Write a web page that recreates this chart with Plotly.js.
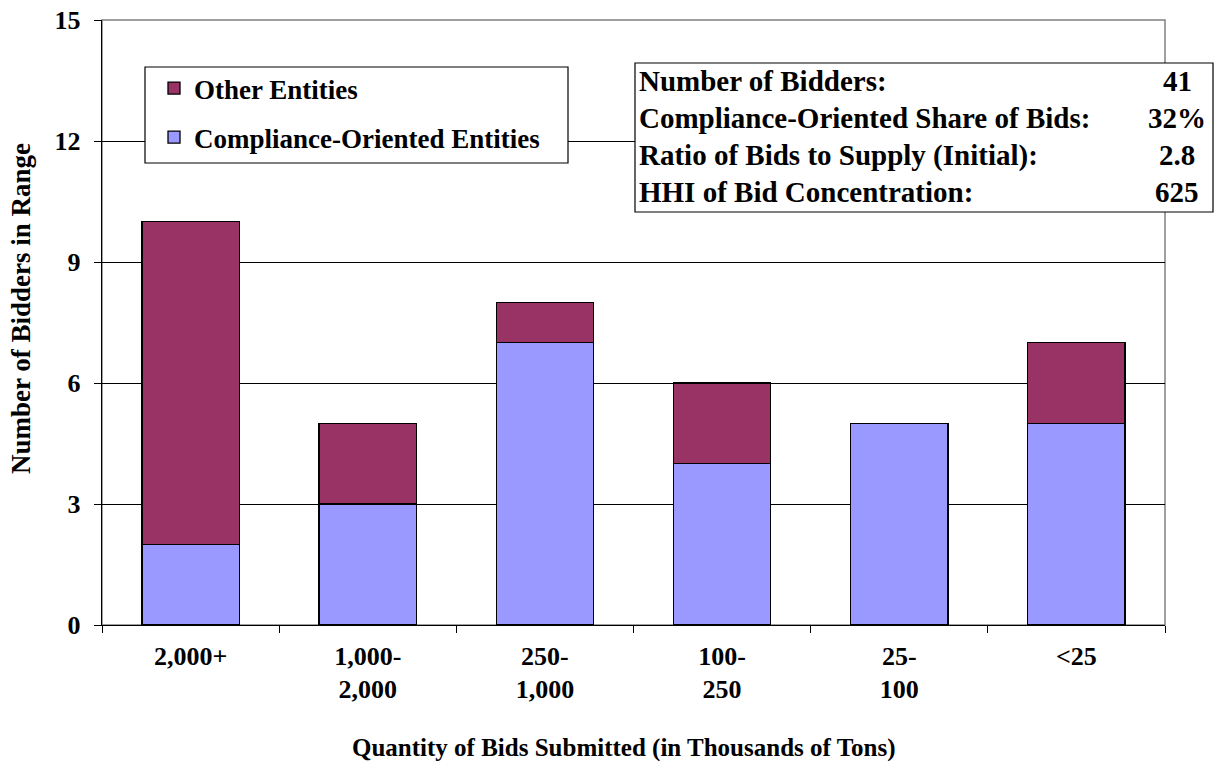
<!DOCTYPE html>
<html><head><meta charset="utf-8">
<script src="https://cdn.plot.ly/plotly-3.0.1.min.js"></script>
<style>html,body{margin:0;padding:0;background:#fff}#chart{width:1228px;height:761px}</style>
</head><body><div id="chart"></div>
<script>
const categories = ["2,000+", "1,000-<br>2,000", "250-<br>1,000", "100-<br>250", "25-<br>100", "<25"];
const compliance = [2, 3, 7, 4, 5, 5];
const other = [8, 2, 1, 2, 0, 2];
const statLabels = ["Number of Bidders:", "Compliance-Oriented Share of Bids:", "Ratio of Bids to Supply (Initial):", "HHI of Bid Concentration:"];
const statValues = ["41", "32%", "2.8", "625"];
const xTitle = "Quantity of Bids Submitted (in Thousands of Tons)";
const yTitle = "Number of Bidders in Range";

const F = "Liberation Serif";
function fnt(size){return {family:F, size:size, color:"#000", weight:"bold"};}
const traces = [
  {type:"bar", name:"Compliance-Oriented Entities", x:categories, y:compliance,
   marker:{color:"#9999FF", line:{color:"#000", width:1.3}}, legendgroup:"b", legendrank:2},
  {type:"bar", name:"Other Entities", x:categories, y:other,
   marker:{color:"#993366", line:{color:"#000", width:1.3}}, legendgroup:"a", legendrank:1}
];

const W=1228, H=761, L=102, R=63, T=20, B=136;
const pw = W-L-R, ph = H-T-B;
function px(x){return (x-L)/pw;}
function py(y){return (H-B-y)/ph;}

const annotations = [];
const rowY = [81, 118, 155, 192];
statLabels.forEach((s,i)=>{
  annotations.push({xref:"paper", yref:"paper", x:px(637), y:py(rowY[i]), xanchor:"left", yanchor:"middle",
    text:s, showarrow:false, font:fnt(29)});
  annotations.push({xref:"paper", yref:"paper", x:px(1177), y:py(rowY[i]), xanchor:"center", yanchor:"middle",
    text:statValues[i], showarrow:false, font:fnt(29)});
});
annotations.push({xref:"paper", yref:"paper", x:px(624), y:py(748), xanchor:"center", yanchor:"middle",
  text:xTitle, showarrow:false, font:fnt(25)});
annotations.push({xref:"paper", yref:"paper", x:px(21), y:py(309), xanchor:"center", yanchor:"middle",
  text:yTitle, textangle:-90, showarrow:false, font:fnt(27)});

const shapes = [
  {type:"rect", xref:"paper", yref:"paper", x0:0, x1:1, y0:0, y1:1, line:{color:"#808080", width:1.5}, layer:"below"},
  {type:"rect", xref:"paper", yref:"paper", x0:px(145), x1:px(568), y0:py(67), y1:py(163), line:{color:"#000", width:1.2}, fillcolor:"#fff", layer:"above"},
  {type:"rect", xref:"paper", yref:"paper", x0:px(635), x1:px(1213), y0:py(63), y1:py(212), line:{color:"#000", width:1.2}, fillcolor:"#fff", layer:"above"}
];

const layout = {
  width:W, height:H, margin:{l:L, r:R, t:T, b:B},
  paper_bgcolor:"#fff", plot_bgcolor:"#fff",
  barmode:"stack", bargap:0.45,
  font:fnt(26),
  showlegend:true,
  legend:{x:px(154), y:py(64), xanchor:"left", yanchor:"top", bgcolor:"rgba(0,0,0,0)", borderwidth:0,
    font:fnt(27), traceorder:"grouped", tracegroupgap:11, itemwidth:30},
  xaxis:{type:"category", showgrid:false, showline:true, linecolor:"#000", linewidth:1.3,
    ticks:"outside", tickson:"boundaries", ticklen:7, tickcolor:"#000",
    tickfont:fnt(26), ticklabelstandoff:7},
  yaxis:{range:[0,15], tickvals:[0,3,6,9,12,15], showgrid:true, gridcolor:"#000", gridwidth:1,
    showline:true, linecolor:"#000", linewidth:1.3, ticks:"outside", ticklen:7, tickcolor:"#000",
    tickfont:fnt(26), ticklabelstandoff:8, zeroline:false},
  shapes:shapes, annotations:annotations
};
Plotly.newPlot("chart", traces, layout, {displayModeBar:false, staticPlot:true});
</script></body></html>
